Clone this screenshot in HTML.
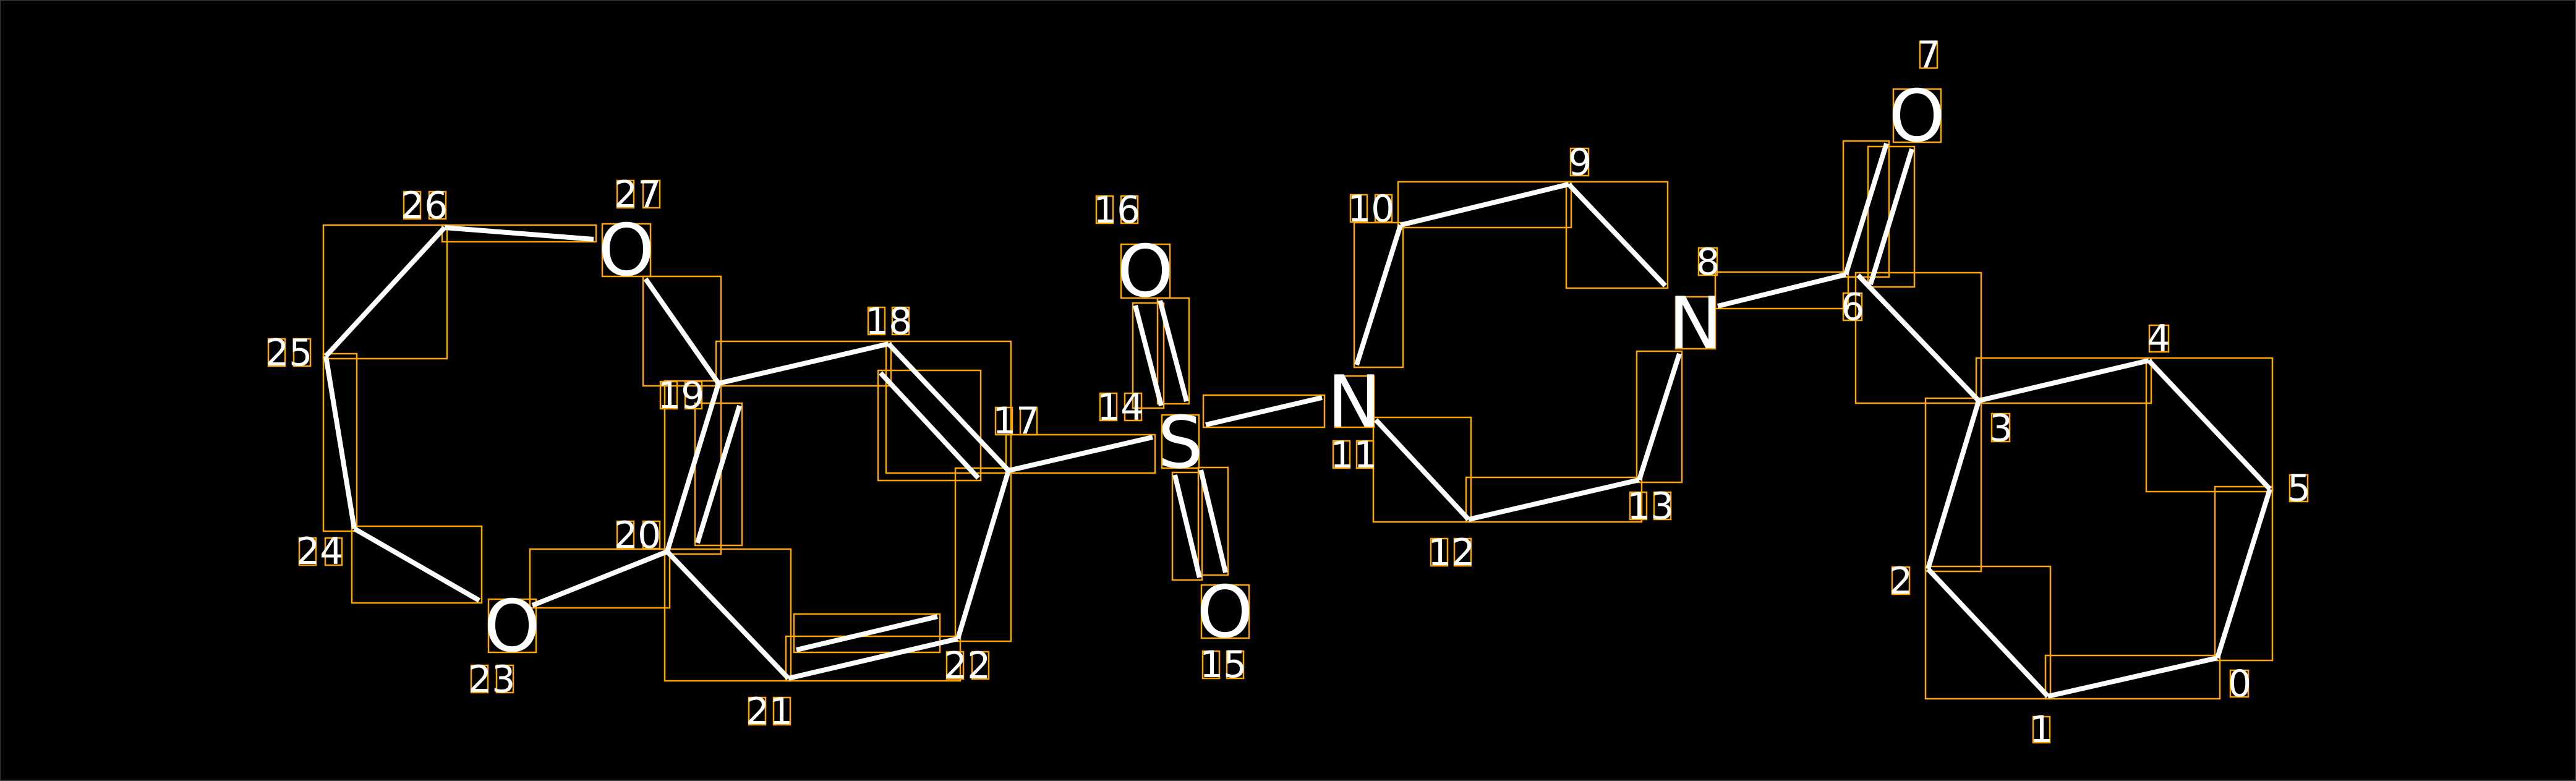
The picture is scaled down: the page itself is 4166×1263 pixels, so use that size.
<!DOCTYPE html>
<html><head><meta charset="utf-8"><style>
html,body{margin:0;padding:0;background:#000;}
svg{display:block}
</style></head><body>
<svg width="4166" height="1263" viewBox="0 0 4166 1263" xmlns="http://www.w3.org/2000/svg">
<rect x="0" y="0" width="4166" height="1263" fill="#000"/>
<rect x="0" y="0" width="4165" height="1262" fill="none" stroke="#3a3a3a" stroke-width="2"/>
<g stroke="#FFA500" stroke-width="2.5" fill="none">
<!-- bond bboxes -->
<rect x="715" y="364" width="249" height="27"/>
<rect x="523" y="364" width="200" height="216"/>
<rect x="523" y="572" width="54" height="287"/>
<rect x="569" y="851" width="210" height="124"/>
<rect x="857" y="888" width="226" height="95"/>
<rect x="1075" y="616" width="91" height="280"/>
<rect x="1124" y="652" width="76" height="230"/>
<rect x="1040" y="447" width="126" height="177"/>
<rect x="1158" y="552" width="283" height="72"/>
<rect x="1433" y="552" width="202" height="213"/>
<rect x="1420" y="599" width="166" height="178"/>
<rect x="1545" y="757" width="90" height="280"/>
<rect x="1271" y="1029" width="282" height="72"/>
<rect x="1284" y="993" width="236" height="62"/>
<rect x="1075" y="888" width="204" height="213"/>
<rect x="1627" y="703" width="241" height="62"/>
<rect x="1832" y="490" width="50" height="170"/>
<rect x="1872" y="482" width="51" height="171"/>
<rect x="1896" y="764" width="48" height="174"/>
<rect x="1938" y="756" width="48" height="174"/>
<rect x="1946" y="639" width="196" height="52"/>
<rect x="2221" y="675" width="158" height="169"/>
<rect x="2371" y="772" width="284" height="72"/>
<rect x="2647" y="568" width="73" height="212"/>
<rect x="2190" y="360" width="79" height="234"/>
<rect x="2261" y="294" width="280" height="74"/>
<rect x="2533" y="294" width="164" height="172"/>
<rect x="2774" y="440" width="215" height="59"/>
<rect x="2981" y="228" width="74" height="220"/>
<rect x="3021" y="237" width="75" height="227"/>
<rect x="3001" y="441" width="203" height="211"/>
<rect x="3196" y="579" width="283" height="73"/>
<rect x="3471" y="579" width="204" height="216"/>
<rect x="3582" y="787" width="93" height="281"/>
<rect x="3308" y="1060" width="282" height="70"/>
<rect x="3114" y="916" width="202" height="214"/>
<rect x="3114" y="644" width="90" height="280"/>
<!-- atom boxes -->
<rect x="974" y="362" width="78" height="85"/>
<rect x="790" y="969" width="77" height="86"/>
<rect x="1813" y="395" width="79" height="87"/>
<rect x="1879" y="671" width="60" height="86"/>
<rect x="1943" y="946" width="77" height="86"/>
<rect x="2159" y="608" width="63" height="83"/>
<rect x="2710" y="480" width="64" height="84"/>
<rect x="3062" y="144" width="77" height="86"/>
<!-- digit boxes: two digits -->
<g>
<rect x="653" y="310" width="27" height="44"/><rect x="694" y="310" width="27" height="44"/>
<rect x="998" y="292" width="27" height="44"/><rect x="1040" y="292" width="27" height="44"/>
<rect x="434" y="548" width="27" height="44"/><rect x="475" y="548" width="27" height="44"/>
<rect x="484" y="870" width="27" height="44"/><rect x="526" y="870" width="27" height="44"/>
<rect x="762" y="1076" width="27" height="44"/><rect x="803" y="1076" width="27" height="44"/>
<rect x="998" y="843" width="27" height="44"/><rect x="1040" y="843" width="27" height="44"/>
<rect x="1068" y="617" width="27" height="44"/><rect x="1108" y="617" width="27" height="44"/>
<rect x="1404" y="497" width="27" height="44"/><rect x="1443" y="497" width="27" height="44"/>
<rect x="1531" y="1054" width="27" height="44"/><rect x="1572" y="1054" width="27" height="44"/>
<rect x="1211" y="1128" width="27" height="44"/><rect x="1251" y="1128" width="27" height="44"/>
<rect x="1773" y="317" width="27" height="44"/><rect x="1813" y="317" width="27" height="44"/>
<rect x="1779" y="636" width="27" height="44"/><rect x="1819" y="636" width="27" height="44"/>
<rect x="1610" y="659" width="27" height="44"/><rect x="1650" y="659" width="27" height="44"/>
<rect x="1945" y="1053" width="27" height="44"/><rect x="1984" y="1053" width="27" height="44"/>
<rect x="2184" y="315" width="27" height="44"/><rect x="2224" y="315" width="27" height="44"/>
<rect x="2156" y="713" width="27" height="44"/><rect x="2194" y="713" width="27" height="44"/>
<rect x="2314" y="871" width="27" height="44"/><rect x="2352" y="871" width="27" height="44"/>
<rect x="2636" y="796" width="27" height="44"/><rect x="2675" y="796" width="27" height="44"/>
</g>
<!-- single digits -->
<rect x="2540" y="240" width="29" height="44"/>
<rect x="2747" y="401" width="30" height="44"/>
<rect x="3105" y="67" width="28" height="43"/>
<rect x="2981" y="474" width="30" height="44"/>
<rect x="3221" y="669" width="29" height="45"/>
<rect x="3476" y="526" width="31" height="43"/>
<rect x="3703" y="768" width="29" height="43"/>
<rect x="3607" y="1084" width="29" height="43"/>
<rect x="3288" y="1159" width="27" height="42"/>
<rect x="3060" y="917" width="28" height="44"/>
</g>
<g stroke="#fff" stroke-width="8" stroke-linecap="butt">
<line x1="719" y1="368" x2="960" y2="387"/>
<line x1="719" y1="368" x2="527" y2="576"/>
<line x1="527" y1="576" x2="573" y2="855"/>
<line x1="573" y1="855" x2="775" y2="971"/>
<line x1="861" y1="979" x2="1079" y2="892"/>
<line x1="1079" y1="892" x2="1162" y2="620"/>
<line x1="1196" y1="656" x2="1128" y2="878"/>
<line x1="1044" y1="451" x2="1162" y2="620"/>
<line x1="1162" y1="620" x2="1437" y2="556"/>
<line x1="1437" y1="556" x2="1631" y2="761"/>
<line x1="1424" y1="603" x2="1582" y2="773"/>
<line x1="1631" y1="761" x2="1549" y2="1033"/>
<line x1="1549" y1="1033" x2="1275" y2="1097"/>
<line x1="1288" y1="1051" x2="1516" y2="997"/>
<line x1="1275" y1="1097" x2="1079" y2="892"/>
<line x1="1631" y1="761" x2="1864" y2="707"/>
<line x1="1836" y1="494" x2="1878" y2="656"/>
<line x1="1876" y1="486" x2="1919" y2="649"/>
<line x1="1900" y1="768" x2="1940" y2="934"/>
<line x1="1942" y1="760" x2="1982" y2="926"/>
<line x1="1950" y1="687" x2="2138" y2="643"/>
<line x1="2225" y1="679" x2="2375" y2="840"/>
<line x1="2375" y1="840" x2="2651" y2="776"/>
<line x1="2651" y1="776" x2="2716" y2="572"/>
<line x1="2194" y1="590" x2="2265" y2="364"/>
<line x1="2265" y1="364" x2="2537" y2="298"/>
<line x1="2537" y1="298" x2="2693" y2="462"/>
<line x1="2778" y1="495" x2="2985" y2="444"/>
<line x1="2985" y1="444" x2="3051" y2="232"/>
<line x1="3025" y1="460" x2="3092" y2="241"/>
<line x1="3005" y1="445" x2="3200" y2="648"/>
<line x1="3200" y1="648" x2="3475" y2="583"/>
<line x1="3475" y1="583" x2="3671" y2="791"/>
<line x1="3671" y1="791" x2="3586" y2="1064"/>
<line x1="3586" y1="1064" x2="3312" y2="1126"/>
<line x1="3312" y1="1126" x2="3118" y2="920"/>
<line x1="3118" y1="920" x2="3200" y2="648"/>
</g>
<g fill="#fff" font-family="'DejaVu Sans','Liberation Sans',sans-serif" font-size="116" text-anchor="middle">
<text x="1013" y="445">O</text>
<text x="828" y="1053">O</text>
<text x="1852" y="479">O</text>
<text x="1909" y="756">S</text>
<text x="1981" y="1030">O</text>
<text x="2190" y="690">N</text>
<text x="2742" y="563">N</text>
<text x="3100" y="228">O</text>
</g>
<g fill="#fff" font-family="'DejaVu Sans','Liberation Sans',sans-serif" font-size="60">
<text x="648" y="353">26</text>
<text x="993" y="335">27</text>
<text x="429" y="591">25</text>
<text x="479" y="912">24</text>
<text x="757" y="1119">23</text>
<text x="993" y="886">20</text>
<text x="1063" y="660">19</text>
<text x="1399" y="540">18</text>
<text x="1526" y="1097">22</text>
<text x="1206" y="1171">21</text>
<text x="1768" y="360">16</text>
<text x="1774" y="679">14</text>
<text x="1605" y="701">17</text>
<text x="1940" y="1095">15</text>
<text x="2179" y="358">10</text>
<text x="2151" y="756">11</text>
<text x="2309" y="914">12</text>
<text x="2631" y="839">13</text>
<text x="2536" y="283">9</text>
<text x="2743" y="444">8</text>
<text x="3100" y="109">7</text>
<text x="2977" y="517">6</text>
<text x="3217" y="713">3</text>
<text x="3472" y="568">4</text>
<text x="3699" y="810">5</text>
<text x="3603" y="1126">0</text>
<text x="3282" y="1200">1</text>
<text x="3055" y="960">2</text>
</g>
</svg>
</body></html>
